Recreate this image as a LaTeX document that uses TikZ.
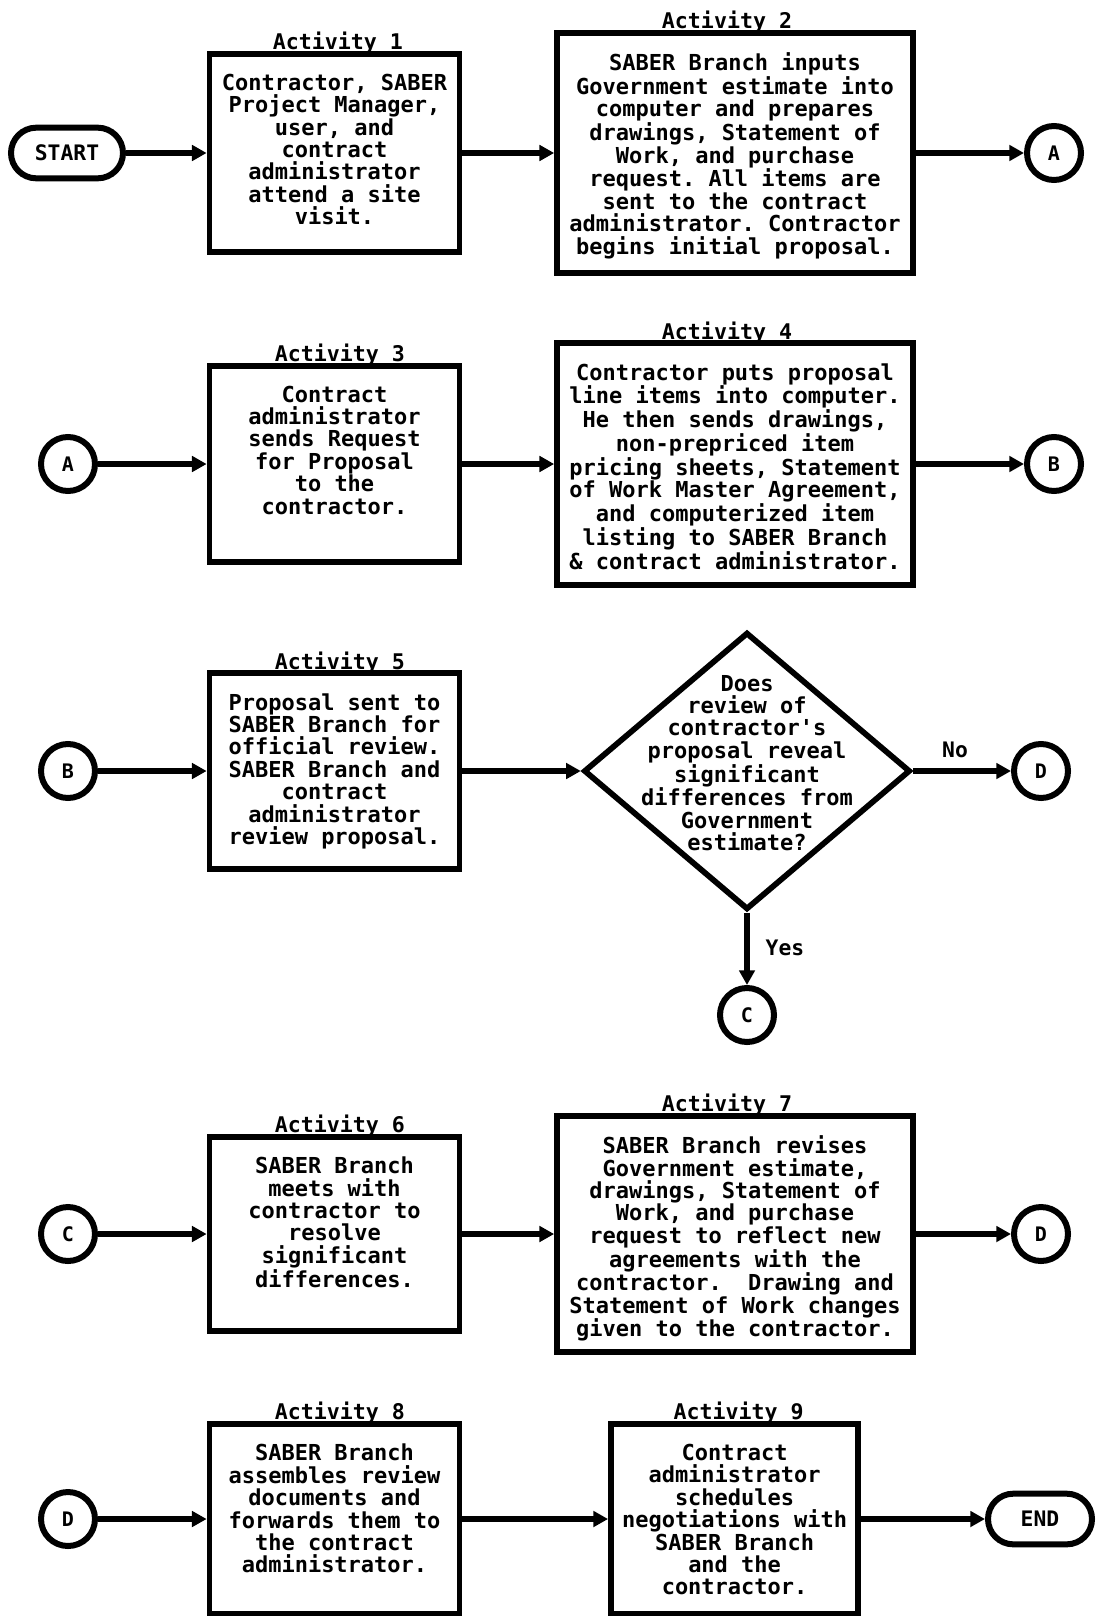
\documentclass[tikz,border=0pt]{standalone}
\usepackage{fontspec}
\setmonofont{DejaVu Sans Mono}
\usetikzlibrary{arrows.meta,shapes.geometric}
\begin{document}
\begin{tikzpicture}[x=0.75pt,y=-0.75pt,
  box/.style={draw, line width=4.3pt, inner sep=0pt},
  sbox/.style={box, minimum width=187.5pt},
  bbox/.style={box, minimum width=267pt},
  txt/.style={align=center, inner sep=0pt, anchor=north, font=\ttfamily\bfseries\fontsize{16.5pt}{16.8pt}\selectfont},
  lbl/.style={anchor=base, inner sep=0pt, font=\ttfamily\bfseries\fontsize{16.2pt}{17pt}\selectfont},
  conn/.style={draw, circle, line width=4.5pt, minimum size=40.5pt, inner sep=0pt, font=\ttfamily\bfseries\fontsize{15pt}{15pt}\selectfont},
  term/.style={draw, rectangle, rounded corners=19pt, line width=4.5pt, minimum height=38pt, inner sep=0pt, font=\ttfamily\bfseries\fontsize{16pt}{16pt}\selectfont},
  arr/.style={line width=5pt, -{Triangle[length=11pt,width=11.5pt]}},
  tag/.style={inner sep=0pt, font=\ttfamily\bfseries\fontsize{16pt}{16pt}\selectfont},
]
\useasboundingbox (0,0) rectangle (1096,1616);

% ---------- Row 1 ----------
\node[term, minimum width=84pt] (start) at (67,153) {START};
\node[sbox, minimum height=148.5pt] (a1) at (334.5,153) {};
\node[txt] (t1) at ([yshift=-17pt]a1.north) {Contractor, SABER\\Project Manager,\\user, and\\contract\\administrator\\attend a site\\visit.};
\node[lbl] (l1) at ([xshift=2.6pt,yshift=1pt]a1.north) {Activity 1};
\node[bbox, minimum height=180.5pt] (a2) at (735,153) {};
\node[txt] (t2) at ([yshift=-17pt]a2.north) {SABER Branch inputs\\Government estimate into\\computer and prepares\\drawings, Statement of\\Work, and purchase\\request. All items are\\sent to the contract\\administrator. Contractor\\begins initial proposal.};
\node[lbl] (l2) at ([xshift=-6pt,yshift=1pt]a2.north) {Activity 2};
\node[conn] (cA1) at (1054,153) {A};
\draw[arr] (start) -- (a1);
\draw[arr] (a1) -- (a2);
\draw[arr] (a2) -- (cA1);

% ---------- Row 2 ----------
\node[conn] (cA2) at (68,464) {A};
\node[sbox, minimum height=147.5pt] (a3) at (334.5,464) {};
\node[txt] (t3) at ([yshift=-17pt]a3.north) {Contract\\administrator\\sends Request\\for Proposal\\to the\\contractor.};
\node[lbl] (l3) at ([xshift=4pt,yshift=1pt]a3.north) {Activity 3};
\node[bbox, minimum height=181pt] (a4) at (735,464) {};
\node[txt] (t4) at ([yshift=-17pt]a4.north) {Contractor puts proposal\\line items into computer.\\He then sends drawings,\\non-prepriced item\\pricing sheets, Statement\\of Work Master Agreement,\\and computerized item\\listing to SABER Branch\\\& contract administrator.};
\node[lbl] (l4) at ([xshift=-6pt,yshift=1pt]a4.north) {Activity 4};
\node[conn] (cB1) at (1054,464) {B};
\draw[arr] (cA2) -- (a3);
\draw[arr] (a3) -- (a4);
\draw[arr] (a4) -- (cB1);

% ---------- Row 3 ----------
\node[conn] (cB2) at (68,771) {B};
\node[sbox, minimum height=146.5pt] (a5) at (334.5,771) {};
\node[txt] (t5) at ([yshift=-17pt]a5.north) {Proposal sent to\\SABER Branch for\\official review.\\SABER Branch and\\contract\\administrator\\review proposal.};
\node[lbl] (l5) at ([xshift=4pt,yshift=1pt]a5.north) {Activity 5};
\node[draw, diamond, line width=4.3pt, minimum width=245pt, minimum height=208pt, inner sep=0pt] (dec) at (747,771) {};
\node[txt, anchor=center] (dt) at ([yshift=6pt]dec.center) {Does\\review of\\contractor's\\proposal reveal\\significant\\differences from\\Government\\estimate?};
\node[conn] (cD1) at (1041,771) {D};
\node[conn] (cC1) at (747,1015) {C};
\node[tag] (no) at (955,750) {No};
\node[tag] (yes) at (785,948) {Yes};
\draw[arr] (cB2) -- (a5);
\draw[arr] (a5) -- (dec);
\draw[arr] (dec) -- (cD1);
\draw[arr] (dec) -- (cC1);

% ---------- Row 4 ----------
\node[conn] (cC2) at (68,1234) {C};
\node[sbox, minimum height=145.5pt] (a6) at (334.5,1234) {};
\node[txt] (t6) at ([yshift=-17pt]a6.north) {SABER Branch\\meets with\\contractor to\\resolve\\significant\\differences.};
\node[lbl] (l6) at ([xshift=4pt,yshift=1pt]a6.north) {Activity 6};
\node[bbox, minimum height=177.5pt] (a7) at (735,1234) {};
\node[txt] (t7) at ([yshift=-17pt]a7.north) {SABER Branch revises\\Government estimate,\\drawings, Statement of\\Work, and purchase\\request to reflect new\\agreements with the\\contractor.\ \ Drawing and\\Statement of Work changes\\given to the contractor.};
\node[lbl] (l7) at ([xshift=-6pt,yshift=1pt]a7.north) {Activity 7};
\node[conn] (cD2) at (1041,1234) {D};
\draw[arr] (cC2) -- (a6);
\draw[arr] (a6) -- (a7);
\draw[arr] (a7) -- (cD2);

% ---------- Row 5 ----------
\node[conn] (cD3) at (68,1519) {D};
\node[sbox, minimum height=142.5pt] (a8) at (334.5,1519) {};
\node[txt] (t8) at ([yshift=-17pt]a8.north) {SABER Branch\\assembles review\\documents and\\forwards them to\\the contract\\administrator.};
\node[lbl] (l8) at ([xshift=4pt,yshift=1pt]a8.north) {Activity 8};
\node[box, minimum width=185.5pt, minimum height=142.5pt] (a9) at (734.6,1519) {};
\node[txt] (t9) at ([yshift=-17pt]a9.north) {Contract\\administrator\\schedules\\negotiations with\\SABER Branch\\and the\\contractor.};
\node[lbl] (l9) at ([xshift=3pt,yshift=1pt]a9.north) {Activity 9};
\node[term, minimum width=78pt] (end) at (1040,1519) {END};
\draw[arr] (cD3) -- (a8);
\draw[arr] (a8) -- (a9);
\draw[arr] (a9) -- (end);
\end{tikzpicture}
\end{document}
